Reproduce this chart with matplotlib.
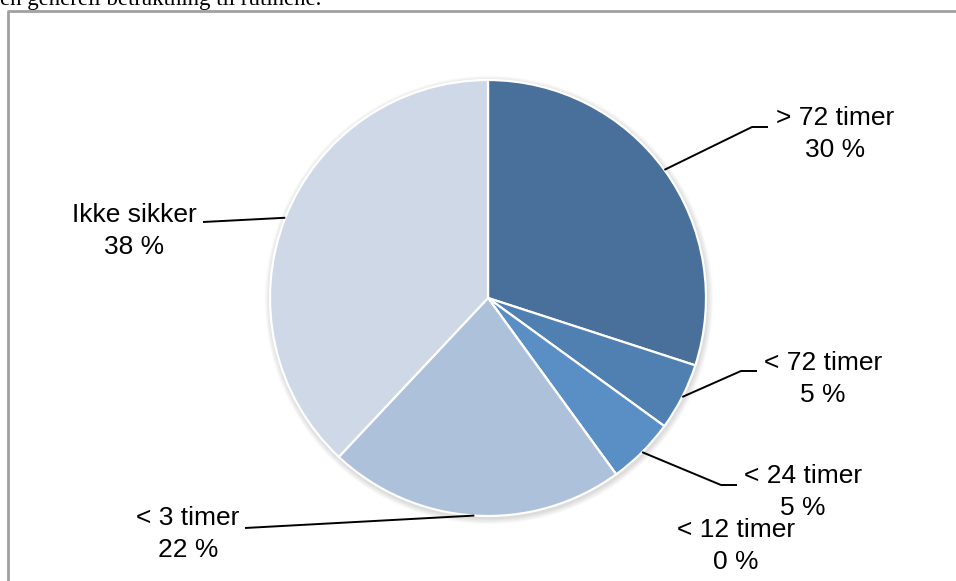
import numpy as np
import matplotlib
matplotlib.use("Agg")
import matplotlib.pyplot as plt
from matplotlib.patches import Circle

# Data
categories = ["> 72 timer", "< 72 timer", "< 24 timer", "< 12 timer", "< 3 timer", "Ikke sikker"]
shares = [30, 5, 5, 0, 22, 38]
colors = ["#48709A", "#5080B2", "#5A8FC6", "#6E9CCB", "#ADC1DB", "#CED8E6"]

W, H = 956, 581
fig = plt.figure(figsize=(W / 100, H / 100), dpi=100)
ax = fig.add_axes([0, 0, 1, 1])
ax.set_xlim(0, W)
ax.set_ylim(0, H)
ax.axis("off")

FONT = ["Liberation Sans", "DejaVu Sans"]

def py(y):
    # top-origin pixel row -> axes y
    return H - y

cx, cy, R = 488, py(298), 218

# soft drop shadow under the pie
for k in range(1, 7):
    ax.add_patch(Circle((cx + 1, cy - 2), R + k, color="black", alpha=0.025, lw=0, zorder=1))

wedges, _ = ax.pie(shares, colors=colors, startangle=90, counterclock=False,
                   center=(cx, cy), radius=R,
                   wedgeprops=dict(edgecolor="white", linewidth=1.6, zorder=2))
for w in wedges:
    w.set_zorder(2)
ax.set_xlim(0, W)
ax.set_ylim(0, H)
ax.set_aspect("auto")

# label layout: text centre, leader elbow, leader end (top-origin pixels)
layout = {
    "> 72 timer": dict(text=(835, 134), elbow=(752, 127), end=(768, 127)),
    "< 72 timer": dict(text=(823, 379), elbow=(741, 371), end=(757, 371)),
    "< 24 timer": dict(text=(803, 492), elbow=(721, 485), end=(737, 485)),
    "< 12 timer": dict(text=(736, 546), elbow=None, end=None),
    "< 3 timer": dict(text=(188, 534), elbow=None, end=(245, 528)),
    "Ikke sikker": dict(text=(134, 231), elbow=None, end=(203, 222)),
}

total = float(sum(shares))
cum = 0.0
for name, v in zip(categories, shares):
    mid = np.deg2rad(90 - 360 * (cum + v / 2) / total)
    cum += v
    lay = layout[name]
    tx, ty = lay["text"]
    ax.text(tx, py(ty), f"{name}\n{v} %", ha="center", va="center",
            fontsize=19, family=FONT, linespacing=1.42, zorder=5)
    if lay["end"] is None:
        continue
    sx, sy = cx + R * np.cos(mid), cy + R * np.sin(mid)
    xs, ys = [sx], [sy]
    if lay["elbow"] is not None:
        xs.append(lay["elbow"][0]); ys.append(py(lay["elbow"][1]))
    xs.append(lay["end"][0]); ys.append(py(lay["end"][1]))
    ax.plot(xs, ys, color="black", lw=1.4, zorder=4, solid_capstyle="butt")

# chart frame (left and top edges)
ax.plot([8, 8, W + 5], [-5, py(11), py(11)], color="#A0A0A0", lw=2.0, zorder=6,
        clip_on=False)

# running document text above the chart
ax.text(0, py(5), "en generell betraktning til rutinene.", ha="left", va="baseline",
        fontsize=16.5, family=["Liberation Serif", "DejaVu Serif"], zorder=6)

fig.savefig("out.png", dpi=100, facecolor="white")
